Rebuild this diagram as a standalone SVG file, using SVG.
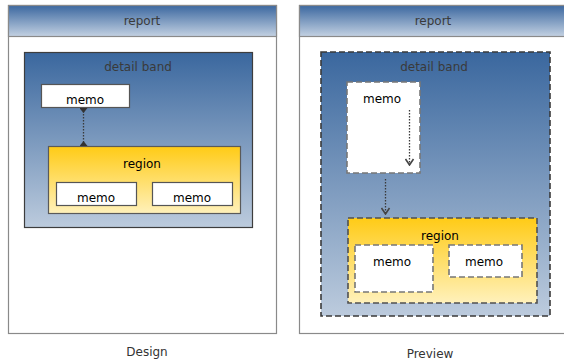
<svg xmlns="http://www.w3.org/2000/svg" width="564" height="362" viewBox="0 0 564 362">
<defs>
<linearGradient id="hdr" x1="0" y1="0" x2="0" y2="1"><stop offset="0" stop-color="#3c68a0"/><stop offset="1" stop-color="#c3d1e2"/></linearGradient>
<linearGradient id="band" x1="0" y1="0" x2="0" y2="1"><stop offset="0" stop-color="#3a679e"/><stop offset="1" stop-color="#bccbdd"/></linearGradient>
<linearGradient id="gold" x1="0" y1="0" x2="0" y2="1"><stop offset="0" stop-color="#ffcb16"/><stop offset="1" stop-color="#fff1bb"/></linearGradient>
<marker id="dn" markerWidth="8" markerHeight="6" refX="4" refY="0" markerUnits="userSpaceOnUse" viewBox="0 0 8 6"><path d="M0,0 L8,0 L4,5 Z" fill="#333"/></marker>
<marker id="up" markerWidth="8" markerHeight="6" refX="4" refY="6" markerUnits="userSpaceOnUse" viewBox="0 0 8 6"><path d="M0,6 L8,6 L4,1 Z" fill="#333"/></marker>
<marker id="chev" markerWidth="10" markerHeight="8" refX="5" refY="7" markerUnits="userSpaceOnUse" viewBox="0 0 10 8"><path d="M1,1 L5,7 L9,1" fill="none" stroke="#444" stroke-width="1.6"/></marker>
</defs>
<style>
text{font-family:"DejaVu Sans","Liberation Sans",sans-serif;font-size:12px;text-anchor:middle}
.panel{fill:#fff;stroke:#8a8a8a;stroke-width:1.2}
.hdr{fill:url(#hdr);stroke:#8a8a8a;stroke-width:1.2}
.band{fill:url(#band);stroke:#3d3d3d;stroke-width:1.2}
.bandd{fill:url(#band);stroke:#3a3a3a;stroke-width:1.6;stroke-dasharray:6 3}
.region{fill:url(#gold);stroke:#5a5a5a;stroke-width:1.2}
.regiond{fill:url(#gold);stroke:#505050;stroke-width:1.6;stroke-dasharray:6 3}
.memo{fill:#fff;stroke:#555;stroke-width:1.2}
.memod{fill:#fff;stroke:#777;stroke-width:1.6;stroke-dasharray:6 3}
.lt{fill:#3a3a3a}
.dk{fill:#000}
.conn{fill:none;stroke:#3a3a3a;stroke-width:1.3;stroke-dasharray:1.5 1.5}
</style>
<g id="design-report">
<rect class="panel" x="8.5" y="5.5" width="268" height="328"/>
<rect class="hdr" x="8.5" y="5.5" width="268" height="31"/>
<text class="lt" x="142" y="25">report</text>
</g>
<g id="design-band">
<rect class="band" x="24.5" y="52.5" width="228" height="175"/>
<text class="lt" x="138" y="71">detail band</text>
</g>
<g id="design-memo">
<rect class="memo" x="41.5" y="84.5" width="88" height="23"/>
<text class="dk" x="85" y="104">memo</text>
</g>
<g id="design-region">
<rect class="region" x="48.5" y="146.5" width="192" height="67"/>
<text class="dk" x="142" y="168">region</text>
</g>
<g id="design-memo2">
<rect class="memo" x="56.5" y="182.5" width="80" height="23"/>
<text class="dk" x="96" y="202">memo</text>
</g>
<g id="design-memo3">
<rect class="memo" x="152.5" y="182.5" width="80" height="23"/>
<text class="dk" x="192" y="202">memo</text>
</g>
<g id="preview-report">
<rect class="panel" x="299.5" y="5.5" width="268" height="328"/>
<rect class="hdr" x="299.5" y="5.5" width="268" height="31"/>
<text class="lt" x="433" y="25">report</text>
</g>
<g id="preview-band">
<rect class="bandd" x="321" y="52" width="229" height="264"/>
<text class="lt" x="434" y="71">detail band</text>
</g>
<g id="preview-memo">
<rect class="memod" x="347" y="82" width="73" height="91"/>
<text class="dk" x="382" y="103">memo</text>
</g>
<g id="preview-region">
<rect class="regiond" x="348" y="218" width="189" height="85"/>
<text class="dk" x="440" y="240">region</text>
</g>
<g id="preview-memo2">
<rect class="memod" x="355" y="245" width="78" height="47"/>
<text class="dk" x="392" y="266">memo</text>
</g>
<g id="preview-memo3">
<rect class="memod" x="449" y="245" width="73" height="32"/>
<text class="dk" x="484" y="266">memo</text>
</g>
<g id="connectors">
<path class="conn" d="M83.5,108 L83.5,146" marker-start="url(#dn)" marker-end="url(#up)"/>
<path class="conn" d="M409.5,110 L409.5,165" marker-end="url(#chev)"/>
<path class="conn" d="M385.5,179 L385.5,214" marker-end="url(#chev)"/>
</g>
<text x="147" y="356" fill="#333">Design</text>
<text x="430" y="358" fill="#333">Preview</text>
</svg>
